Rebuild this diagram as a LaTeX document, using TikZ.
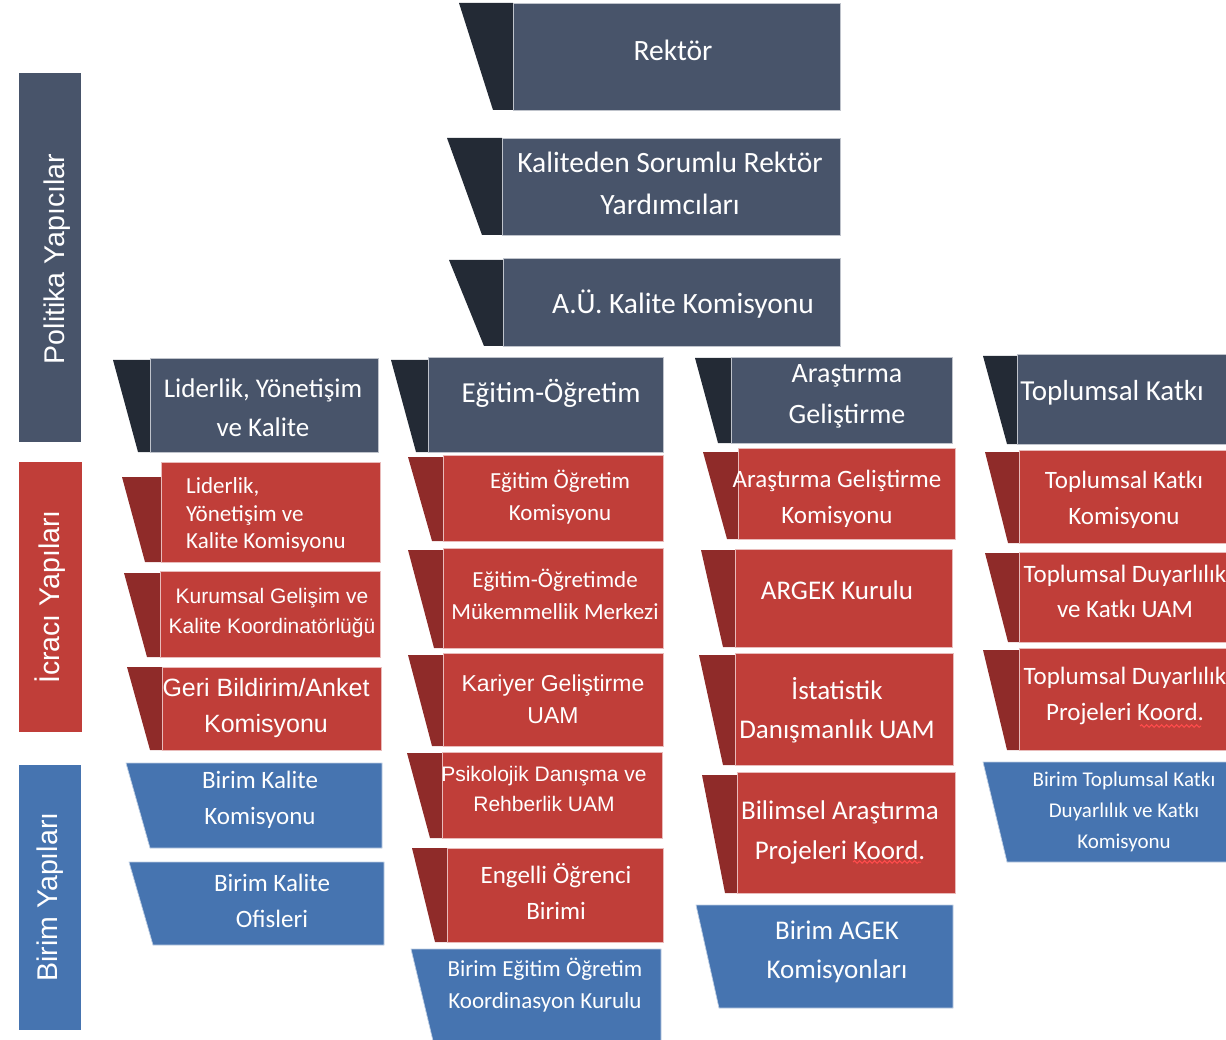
\documentclass[tikz,border=0pt]{standalone}
\usepackage{fontspec}
\setmainfont{Carlito}
\newfontfamily\arial{Liberation Sans}
\usetikzlibrary{decorations.pathmorphing}
\definecolor{koyu}{HTML}{48546A}
\definecolor{koyuk}{HTML}{232A35}
\definecolor{kirmizi}{HTML}{C03E39}
\definecolor{kirmizik}{HTML}{8F2B29}
\definecolor{mavi}{HTML}{4674B0}
\newcommand{\yazi}[2]{\fontsize{#1}{#2}\selectfont}
% kanatli kutu: renk, kanat ust x, kanat alt x, sol x, ust y, sag x, alt y, kanat ust y
\newcommand{\kutu}[8]{%
	\fill[#1 kanat] (#2,#8) -- (#4,#8) -- (#4,#7) -- (#3,#7) -- cycle;
	\filldraw[#1 kutu] (#4,#5) rectangle (#6,#7);}
% mavi kutu: ust sol x, alt sol x, sag x, ust y, alt y
\newcommand{\mavikutu}[5]{%
	\filldraw[mavi kutu] (#1,#4) -- (#3,#4) -- (#3,#5) -- (#2,#5) -- cycle;}
\tikzset{
	koyu kanat/.style={fill=koyuk},
	koyu kutu/.style={fill=koyu, draw=koyu!35!white, line width=0.7pt},
	kirmizi kanat/.style={fill=kirmizik},
	kirmizi kutu/.style={fill=kirmizi, draw=kirmizi!35!white, line width=0.7pt},
	mavi kutu/.style={fill=mavi, draw=mavi!35!white, line width=0.7pt},
	etiket/.style={text=white, align=center, inner sep=0pt},
	yan/.style={etiket, rotate=90, font=\arial\yazi{28.5}{32}},
	dalga/.style={draw=red!70!white, line width=1pt, decorate,
		decoration={snake, amplitude=1.3pt, segment length=5pt}},
}

\begin{document}
\begin{tikzpicture}[x=1pt, y=-1pt]
	\useasboundingbox (0,0) rectangle (1226,1040);
	\clip (0,0) rectangle (1226,1040);
	% yan seritler
	\fill[koyu] (19,73) rectangle (81,442);
	\fill[kirmizi] (19,462) rectangle (82,732);
	\fill[mavi] (19,765) rectangle (81,1030);
	\node[yan] (politika) at (57,259) {Politika Yapıcılar};
	\node[yan] (icraci) at (50,597) {İcracı Yapıları};
	\node[yan] (birim) at (50,897) {Birim Yapıları};
	% ust
	\kutu{koyu}{459}{493}{513}{3}{840}{110}{3}
	\kutu{koyu}{447}{482}{502}{138}{840}{235}{138}
	\kutu{koyu}{449}{484}{503}{258}{840}{346}{260}
	\node[etiket, font=\yazi{29.5}{42}] (rektor) at (673,50) {Rektör};
	\node[etiket, font=\yazi{29.5}{42}] (ryard) at (670,183) {Kaliteden Sorumlu Rektör\\Yardımcıları};
	\node[etiket, font=\yazi{29.5}{42}] (aukom) at (683,304) {A.Ü. Kalite Komisyonu};
	% liderlik
	\kutu{koyu}{113}{138}{150}{358}{378}{452}{360}
	\kutu{kirmizi}{122}{145}{161}{462}{380}{562}{477}
	\kutu{kirmizi}{124}{147}{160}{571}{380}{657}{573}
	\kutu{kirmizi}{127}{150}{162}{667}{381}{750}{667}
	\mavikutu{126}{150}{382}{763}{848}
	\mavikutu{129}{153}{384}{862}{945}
	\node[etiket, font=\yazi{27}{39}] (liderlik) at (263,408) {Liderlik, Yönetişim\\ve Kalite};
	\node[etiket, align=left, anchor=west, font=\yazi{23}{27.5}] (lykom) at (186,515) {Liderlik,\\Yönetişim ve\\Kalite Komisyonu};
	\node[etiket, font=\arial\yazi{21}{30}] (kurumsal) at (272,613) {Kurumsal Gelişim ve\\Kalite Koordinatörlüğü};
	\node[etiket, font=\arial\yazi{25}{36}] (geri) at (266,708) {Geri Bildirim/Anket\\Komisyonu};
	\node[etiket, font=\yazi{25}{36}] (bkkom) at (260,800) {Birim Kalite\\Komisyonu};
	\node[etiket, font=\yazi{25}{36}] (bkofis) at (272,901) {Birim Kalite\\Ofisleri};
	% egitim
	\kutu{koyu}{391}{416}{428}{357}{663}{452}{360}
	\kutu{kirmizi}{408}{432}{443}{455}{663}{541}{457}
	\kutu{kirmizi}{408}{434}{443}{548}{663}{648}{550}
	\kutu{kirmizi}{408}{432}{443}{653}{663}{746}{655}
	\kutu{kirmizi}{407}{430}{442}{752}{662}{838}{753}
	\kutu{kirmizi}{412}{435}{447}{848}{663}{942}{848}
	\mavikutu{411}{434}{661}{949}{1045}
	\node[etiket, font=\yazi{29}{42}] (egitim) at (551,393) {Eğitim-Öğretim};
	\node[etiket, font=\yazi{23}{32}] (eokom) at (560,497) {Eğitim Öğretim\\Komisyonu};
	\node[etiket, font=\yazi{23}{32}] (mukemmel) at (555,594) {Eğitim-Öğretimde\\Mükemmellik Merkezi};
	\node[etiket, font=\arial\yazi{23}{32}] (kariyer) at (553,699) {Kariyer Geliştirme\\UAM};
	\node[etiket, font=\arial\yazi{21}{30}] (psikolojik) at (544,789) {Psikolojik Danışma ve\\Rehberlik UAM};
	\node[etiket, font=\yazi{25}{36}] (engelli) at (556,891) {Engelli Öğrenci\\Birimi};
	\node[etiket, font=\yazi{23}{32}] (bekk) at (545,985) {Birim Eğitim Öğretim\\Koordinasyon Kurulu};
	% arastirma
	\kutu{koyu}{695}{718}{731}{357}{952}{443}{358}
	\kutu{kirmizi}{703}{727}{738}{448}{955}{539}{452}
	\kutu{kirmizi}{701}{723}{735}{549}{952}{647}{550}
	\kutu{kirmizi}{699}{723}{735}{653}{953}{765}{655}
	\kutu{kirmizi}{702}{725}{737}{772}{955}{893}{775}
	\mavikutu{696}{719}{953}{905}{1008}
	\node[etiket, font=\yazi{28}{41}] (arastirma) at (847,396) {Araştırma\\Geliştirme};
	\node[etiket, font=\yazi{25}{36}] (agkom) at (837,499) {Araştırma Geliştirme\\Komisyonu};
	\node[etiket, font=\yazi{27}{39}] (argek) at (837,590) {ARGEK Kurulu};
	\node[etiket, font=\yazi{27}{39}] (istatistik) at (837,710) {İstatistik\\Danışmanlık UAM};
	\node[etiket, font=\yazi{27}{40}] (bilimsel) at (840,832) {Bilimsel Araştırma\\Projeleri Koord.};
	\node[etiket, font=\yazi{27}{39}] (bagek) at (837,952) {Birim AGEK\\Komisyonları};
	\draw[dalga] (853,862) -- (921,862);
	% toplumsal katki
	\kutu{koyu}{983}{1007}{1017}{354}{1240}{444}{356}
	\kutu{kirmizi}{985}{1008}{1019}{450}{1240}{543}{452}
	\kutu{kirmizi}{985}{1008}{1019}{552}{1240}{642}{553}
	\kutu{kirmizi}{983}{1007}{1019}{648}{1240}{750}{650}
	\mavikutu{983}{1007}{1240}{762}{862}
	\node[etiket, font=\yazi{29}{42}] (toplumsal) at (1112,393) {Toplumsal Katkı};
	\node[etiket, font=\yazi{25}{36}] (tkkom) at (1124,500) {Toplumsal Katkı\\Komisyonu};
	\node[etiket, font=\yazi{25}{35}] (tduam) at (1125,591) {Toplumsal Duyarlılık\\ve Katkı UAM};
	\node[etiket, font=\yazi{25}{36}] (tdproje) at (1125,696) {Toplumsal Duyarlılık\\Projeleri Koord.};
	\draw[dalga] (1140,726) -- (1201,726);
	\node[etiket, font=\yazi{21}{31}] (btk) at (1124,812) {Birim Toplumsal Katkı\\Duyarlılık ve Katkı\\Komisyonu};
\end{tikzpicture}
\end{document}
